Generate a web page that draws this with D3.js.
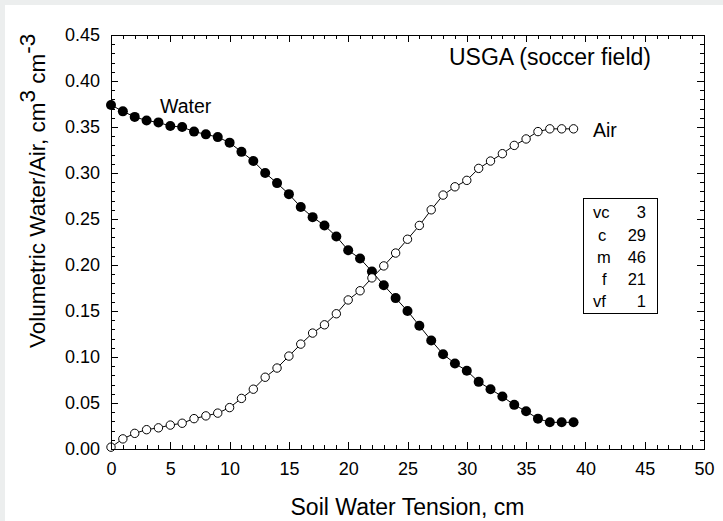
<!doctype html>
<html lang="en">
<head>
  <meta charset="utf-8">
  <title>USGA (soccer field)</title>
  <script src="https://d3js.org/d3.v7.min.js"></script>
  <style>
    body { margin: 0; background: #fff; }
    text { font-family: "Liberation Sans", Arial, sans-serif; fill: #000; }
    .axis path, .axis line { stroke: #000; stroke-width: 1px; shape-rendering: crispEdges; }
  </style>
</head>
<body>
<div id="chart"></div>
<script>
// soil water tension, cm
var tension = d3.range(0, 40);

// volumetric water content, cm3/cm3 (filled circles)
var water = [0.374, 0.367, 0.361, 0.357, 0.355, 0.351, 0.350, 0.345, 0.342, 0.339,
             0.333, 0.323, 0.313, 0.300, 0.289, 0.277, 0.263, 0.252, 0.243, 0.231,
             0.216, 0.207, 0.193, 0.178, 0.164, 0.150, 0.134, 0.118, 0.103, 0.093,
             0.085, 0.073, 0.065, 0.057, 0.048, 0.041, 0.033, 0.029, 0.029, 0.029];

// air-filled porosity, cm3/cm3 (open circles)
var air = [0.002, 0.011, 0.017, 0.021, 0.023, 0.026, 0.028, 0.033, 0.036, 0.039,
           0.045, 0.055, 0.065, 0.078, 0.088, 0.101, 0.114, 0.126, 0.135, 0.147,
           0.162, 0.172, 0.186, 0.199, 0.213, 0.228, 0.243, 0.260, 0.276, 0.285,
           0.292, 0.305, 0.313, 0.321, 0.330, 0.337, 0.345, 0.348, 0.348, 0.348];

// particle size classes, %
var sizeClasses = ["vc", "c", "m", "f", "vf"];
var sizePercents = [3, 29, 46, 21, 1];

var xTicks = d3.range(0, 51, 5);
var yTicks = d3.range(0, 0.451, 0.05);

var width = 723, height = 521;
var plotL = 111, plotR = 704, plotT = 35, plotB = 449;

var svg = d3.select("#chart").append("svg")
  .attr("width", width)
  .attr("height", height);

// light grey frame on top and left
svg.append("rect").attr("x", 0).attr("y", 0).attr("width", width).attr("height", 5).attr("fill", "#eceeee");
svg.append("rect").attr("x", 0).attr("y", 0).attr("width", 5).attr("height", height).attr("fill", "#eceeee");

var x = d3.scaleLinear().domain([0, 50]).range([plotL, plotR]);
var y = d3.scaleLinear().domain([0, 0.45]).range([plotB, plotT]);

var xMinor = d3.range(0, 51, 1).filter(function(d) { return d % 5 !== 0; });
var yMinor = d3.range(0, 46, 1).filter(function(d) { return d % 5 !== 0; }).map(function(d) { return d / 100; });

function drawAxes() {
  // minor ticks on all four sides
  svg.append("g").attr("class", "axis").attr("transform", "translate(0," + plotB + ")")
    .call(d3.axisBottom(x).tickValues(xMinor).tickSize(-4).tickFormat(""));
  svg.append("g").attr("class", "axis").attr("transform", "translate(0," + plotT + ")")
    .call(d3.axisTop(x).tickValues(xMinor).tickSize(-4).tickFormat(""));
  svg.append("g").attr("class", "axis").attr("transform", "translate(" + plotL + ",0)")
    .call(d3.axisLeft(y).tickValues(yMinor).tickSize(-4).tickFormat(""));
  svg.append("g").attr("class", "axis").attr("transform", "translate(" + plotR + ",0)")
    .call(d3.axisRight(y).tickValues(yMinor).tickSize(-4).tickFormat(""));

  // major ticks
  var xb = svg.append("g").attr("class", "axis").attr("transform", "translate(0," + plotB + ")")
    .call(d3.axisBottom(x).tickValues(xTicks).tickSizeInner(-7).tickSizeOuter(0).tickPadding(13).tickFormat(d3.format("d")));
  svg.append("g").attr("class", "axis").attr("transform", "translate(0," + plotT + ")")
    .call(d3.axisTop(x).tickValues(xTicks).tickSizeInner(-7).tickSizeOuter(0).tickFormat(""));
  var yl = svg.append("g").attr("class", "axis").attr("transform", "translate(" + plotL + ",0)")
    .call(d3.axisLeft(y).tickValues(yTicks).tickSizeInner(-7).tickSizeOuter(0).tickPadding(11).tickFormat(d3.format(".2f")));
  svg.append("g").attr("class", "axis").attr("transform", "translate(" + plotR + ",0)")
    .call(d3.axisRight(y).tickValues(yTicks).tickSizeInner(-7).tickSizeOuter(0).tickFormat(""));

  xb.selectAll("text").attr("font-size", 18).attr("font-family", null);
  yl.selectAll("text").attr("font-size", 18).attr("font-family", null);
}
drawAxes();

// series lines
var line = d3.line()
  .x(function(d, i) { return x(tension[i]); })
  .y(function(d) { return y(d); });

svg.append("path").datum(water).attr("d", line)
  .attr("fill", "none").attr("stroke", "#000").attr("stroke-width", 1);
svg.append("path").datum(air).attr("d", line)
  .attr("fill", "none").attr("stroke", "#000").attr("stroke-width", 1);

svg.selectAll(".pt-water").data(water).enter().append("circle")
  .attr("class", "pt-water")
  .attr("cx", function(d, i) { return x(tension[i]); })
  .attr("cy", function(d) { return y(d); })
  .attr("r", 5)
  .attr("fill", "#000");

svg.selectAll(".pt-air").data(air).enter().append("circle")
  .attr("class", "pt-air")
  .attr("cx", function(d, i) { return x(tension[i]); })
  .attr("cy", function(d) { return y(d); })
  .attr("r", 4.2)
  .attr("fill", "#fff")
  .attr("stroke", "#000")
  .attr("stroke-width", 1);

// frame
svg.append("rect")
  .attr("x", plotL).attr("y", plotT)
  .attr("width", plotR - plotL).attr("height", plotB - plotT)
  .attr("fill", "none").attr("stroke", "#000").attr("stroke-width", 1)
  .attr("shape-rendering", "crispEdges");

// annotations
svg.append("text").attr("x", 449).attr("y", 65)
  .attr("font-size", 23).text("USGA (soccer field)");
svg.append("text").attr("x", 160).attr("y", 112.5).attr("font-size", 19.5).text("Water");
svg.append("text").attr("x", 593).attr("y", 137).attr("font-size", 19.5).text("Air");

// particle size box
svg.append("rect").attr("x", 583.5).attr("y", 198.5).attr("width", 74).attr("height", 115)
  .attr("fill", "#fff").attr("stroke", "#000").attr("stroke-width", 1);
var labelX = [593, 598, 597, 602, 593];
sizeClasses.forEach(function(c, i) {
  var by = 218.3 + i * 22.25;
  svg.append("text").attr("x", labelX[i]).attr("y", by).attr("font-size", 16.5).text(c);
  svg.append("text").attr("x", 646).attr("y", by).attr("text-anchor", "end")
    .attr("font-size", 16.5).text(sizePercents[i]);
});

// axis titles
svg.append("text").attr("x", (plotL + plotR) / 2).attr("y", 515).attr("text-anchor", "middle")
  .attr("font-size", 23).text("Soil Water Tension, cm");

var yt = svg.append("text")
  .attr("transform", "translate(45,348) rotate(-90)")
  .attr("text-anchor", "start")
  .attr("font-size", 22.5);
yt.append("tspan").text("Volumetric Water/Air, cm");
yt.append("tspan").attr("dy", -10).text("3");
yt.append("tspan").attr("dy", 10).text(" cm");
yt.append("tspan").attr("dy", -10).text("-3");
</script>
</body>
</html>
